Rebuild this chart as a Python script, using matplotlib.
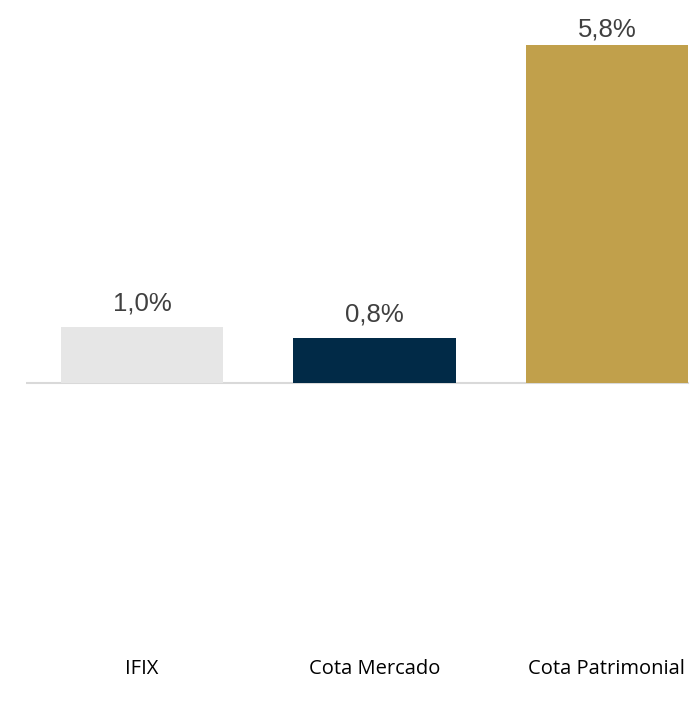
import matplotlib
matplotlib.use("Agg")
import matplotlib.pyplot as plt

categories = ["IFIX", "Cota Mercado", "Cota Patrimonial"]
values = [0.96, 0.77, 5.80]
colors = ["#E6E6E6", "#012A47", "#C1A04B"]

fig = plt.figure(figsize=(6.94, 7.07), dpi=100)
# axes in pixels: left 26, right extends past the figure edge
W, H = 694, 707
left, right = 26, 723
top, bottom = 40, 655
ax = fig.add_axes([left / W, 1 - bottom / H, (right - left) / W, (bottom - top) / H])

x = range(len(categories))
ax.bar(x, values, width=0.70, color=colors, zorder=2)

ax.set_xlim(-0.5, 2.5)
ax.set_ylim(-4.67, 5.88)

# data labels: baseline 16 px above bar top, kept inside the top of the figure
for xi, v in zip(x, values):
    yd = ax.transData.transform((xi, v))[1]
    ty = min(yd + 16, H - 37)
    ax.annotate(f"{v:.1f}%".replace(".", ","), xy=(xi, ty),
                xycoords=("data", "figure pixels"), ha="center", va="baseline",
                fontsize=18.5, color="#404040", family="Liberation Sans",
                annotation_clip=False)

ax.axhline(0, xmax=0.95, color="#D9D9D9", linewidth=1.5, zorder=1)

ax.set_xticks(list(x))
ax.set_xticklabels(categories, fontsize=14.5, family="Open Sans", color="#000000")
ax.tick_params(axis="x", length=0, pad=3)
ax.set_yticks([])
for s in ax.spines.values():
    s.set_visible(False)

fig.savefig("out.png", dpi=100)
